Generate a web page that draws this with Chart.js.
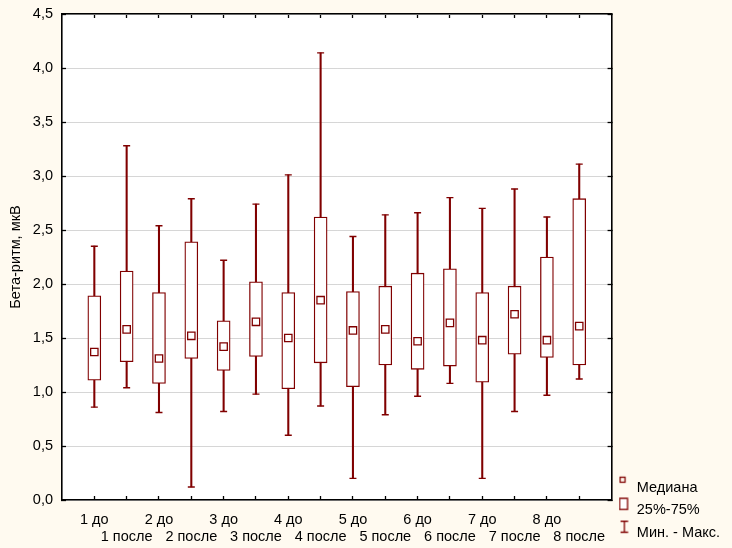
<!DOCTYPE html>
<html>
<head>
<meta charset="utf-8">
<script src="https://cdn.jsdelivr.net/npm/chart.js@4.4.0/dist/chart.umd.min.js"></script>
<style>
  html, body { margin: 0; padding: 0; background: #fffaf0; }
  canvas { display: block; }
</style>
</head>
<body>
<canvas id="betaChart" width="732" height="548"></canvas>
<script>
// groups: before / after for 8 measurements
var categories = ['1 до', '1 после', '2 до', '2 после', '3 до', '3 после', '4 до', '4 после',
                  '5 до', '5 после', '6 до', '6 после', '7 до', '7 после', '8 до', '8 после'];
var maxVals    = [2.35, 3.28, 2.54, 2.79, 2.22, 2.74, 3.01, 4.14, 2.44, 2.64, 2.66, 2.80, 2.70, 2.88, 2.62, 3.11];
var q3Vals     = [1.89, 2.12, 1.92, 2.39, 1.66, 2.02, 1.92, 2.62, 1.93, 1.98, 2.10, 2.14, 1.92, 1.98, 2.25, 2.79];
var medianVals = [1.37, 1.58, 1.31, 1.52, 1.42, 1.65, 1.50, 1.85, 1.57, 1.58, 1.47, 1.64, 1.48, 1.72, 1.48, 1.61];
var q1Vals     = [1.11, 1.28, 1.08, 1.31, 1.20, 1.33, 1.03, 1.27, 1.05, 1.25, 1.21, 1.24, 1.09, 1.35, 1.32, 1.25];
var minVals    = [0.86, 1.04, 0.81, 0.12, 0.82, 0.98, 0.60, 0.87, 0.20, 0.79, 0.96, 1.08, 0.20, 0.82, 0.97, 1.12];
var legendNames = ['Медиана', '25%-75%', 'Мин. - Макс.'];

var RED = '#800000';
var FONT = 'Liberation Sans';
var FS = 14.5;

function pts(vals) {
    return vals.map(function (v, i) { return { x: i, y: v }; });
}
function ranges(lo, hi) {
    return lo.map(function (v, i) { return { x: i, y: [v, hi[i]] }; });
}

// little legend icons, drawn a bit left/up of the canvas centre
function icon(kind) {
    var c = document.createElement('canvas');
    c.width = 16; c.height = 26;
    var g = c.getContext('2d');
    g.strokeStyle = RED;
    g.lineWidth = 1.3;
    if (kind === 0) {
        g.strokeRect(1.5, 2.5, 5, 5);
    } else if (kind === 1) {
        g.fillStyle = '#fff';
        g.fillRect(1, 1.2, 8, 11);
        g.strokeRect(1, 1.2, 8, 11);
    } else {
        g.beginPath();
        g.moveTo(5.8, 1.5); g.lineTo(5.8, 12.5);
        g.moveTo(2, 1.5); g.lineTo(9.6, 1.5);
        g.moveTo(2, 12.5); g.lineTo(9.6, 12.5);
        g.stroke();
    }
    return c;
}
var legendIcons = [icon(0), icon(1), icon(2)];

function catTickColor(c) {
    return (c.tick && c.tick.value >= 0 && c.tick.value <= 15) ? '#000' : 'rgba(0,0,0,0)';
}

var plotBg = {
    id: 'plotBg',
    beforeDraw: function (chart) {
        var a = chart.chartArea, ctx = chart.ctx;
        ctx.save();
        ctx.fillStyle = '#ffffff';
        ctx.fillRect(a.left, a.top, a.right - a.left, a.bottom - a.top);
        ctx.restore();
    }
};

var ctx = document.getElementById('betaChart');
var boxChart = new Chart(ctx, {
    type: 'bar',
    data: {
        datasets: [{
            type: 'scatter',
            label: 'median',
            data: pts(medianVals),
            pointStyle: 'rect',
            pointRadius: 5.2,
            backgroundColor: '#fff',
            borderColor: RED,
            borderWidth: 1.3,
            order: 0
        }, {
            label: 'box',
            data: ranges(q1Vals, q3Vals),
            backgroundColor: '#fff',
            borderColor: RED,
            borderWidth: 1.3,
            borderSkipped: false,
            barThickness: 13,
            grouped: false,
            order: 1
        }, {
            label: 'whisker',
            data: ranges(minVals, maxVals),
            backgroundColor: RED,
            borderWidth: 0,
            barThickness: 1.4,
            grouped: false,
            order: 2
        }, {
            type: 'scatter',
            label: 'max',
            data: pts(maxVals),
            pointStyle: 'line',
            pointRadius: 3.5,
            borderColor: RED,
            borderWidth: 1.4,
            order: 3
        }, {
            type: 'scatter',
            label: 'min',
            data: pts(minVals),
            pointStyle: 'line',
            pointRadius: 3.5,
            borderColor: RED,
            borderWidth: 1.4,
            order: 3
        }]
    },
    options: {
        responsive: false,
        animation: false,
        events: [],
        layout: { padding: { left: 7, top: 14, right: 2, bottom: 0 } },
        font: { family: FONT, size: FS },
        scales: {
            x: {
                type: 'linear',
                position: 'bottom',
                min: -1, max: 16,
                offset: false,
                afterFit: function (s) { s.height = 48; },
                grid: { drawOnChartArea: false, offset: false, tickLength: -4, tickColor: catTickColor, tickWidth: 1.3 },
                border: { color: '#000', width: 1.6 },
                ticks: {
                    stepSize: 1, autoSkip: false, maxRotation: 0, minRotation: 0,
                    padding: 15, color: '#000',
                    font: { family: FONT, size: FS },
                    callback: function (v) {
                        if (v < 0 || v > 15) return '';
                        var lab = categories[v];
                        return v % 2 === 0 ? [lab, ''] : ['', lab];
                    }
                }
            },
            x2: {
                type: 'linear',
                position: 'top',
                min: -1, max: 16,
                offset: false,
                afterFit: function (s) { s.height = 0; },
                grid: { drawOnChartArea: false, offset: false, tickLength: -4, tickColor: catTickColor, tickWidth: 1.3 },
                border: { color: '#000', width: 1.6 },
                ticks: { display: false, stepSize: 1 }
            },
            y: {
                min: 0, max: 4.5,
                afterFit: function (s) { s.width = 55; s.paddingTop = 0; s.paddingBottom = 0; },
                grid: { color: '#d6d6d6', lineWidth: 1, tickLength: -4, tickColor: '#000', tickWidth: 1.3 },
                border: { color: '#000', width: 1.6 },
                ticks: {
                    stepSize: 0.5, padding: 13, color: '#000',
                    font: { family: FONT, size: FS },
                    callback: function (v) { return v.toFixed(1).replace('.', ','); }
                },
                title: {
                    display: true, text: 'Бета-ритм, мкВ', color: '#000',
                    font: { family: FONT, size: FS }, padding: { top: 0, bottom: 6 }
                }
            },
            y2: {
                position: 'right',
                min: 0, max: 4.5,
                afterFit: function (s) { s.width = 4; s.paddingTop = 0; s.paddingBottom = 0; },
                grid: { drawOnChartArea: false, tickLength: -4, tickColor: '#000', tickWidth: 1.3 },
                border: { color: '#000', width: 1.6 },
                ticks: { display: false, stepSize: 0.5 }
            }
        },
        plugins: {
            tooltip: { enabled: false },
            legend: {
                position: 'right',
                align: 'end',
                labels: {
                    usePointStyle: true,
                    pointStyleWidth: 6,
                    padding: 8,
                    color: '#000',
                    font: { family: FONT, size: FS },
                    generateLabels: function () {
                        return legendNames.map(function (name, i) {
                            return {
                                text: name,
                                pointStyle: legendIcons[i],
                                fillStyle: 'rgba(0,0,0,0)',
                                strokeStyle: 'rgba(0,0,0,0)',
                                lineWidth: 0,
                                hidden: false,
                                fontColor: '#000',
                                datasetIndex: i
                            };
                        });
                    }
                }
            }
        }
    },
    plugins: [plotBg]
});
</script>
</body>
</html>
